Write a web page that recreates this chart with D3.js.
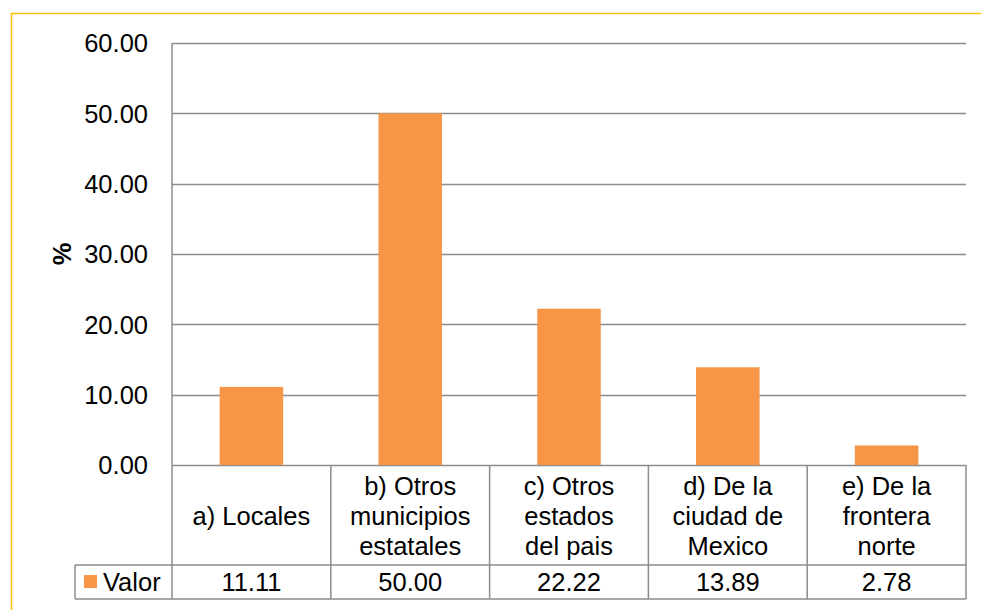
<!DOCTYPE html>
<html>
<head>
<meta charset="utf-8">
<script src="https://cdn.jsdelivr.net/npm/d3@7"></script>
<style>
  html, body { margin: 0; padding: 0; background: #fff; }
  svg { display: block; font-family: "Liberation Sans", Arial, sans-serif; }
</style>
</head>
<body>
<svg id="chart" width="981" height="610"></svg>
<script>
// Data
const categories = [
  ["a) Locales"],
  ["b) Otros", "municipios", "estatales"],
  ["c) Otros", "estados", "del pais"],
  ["d) De la", "ciudad de", "Mexico"],
  ["e) De la", "frontera", "norte"]
];
const values = [11.11, 50.00, 22.22, 13.89, 2.78];
const seriesName = "Valor";
const yTicks = [0, 10, 20, 30, 40, 50, 60];

(function draw() {
  const svg = d3.select("#chart");
  const W = 981, H = 610;
  const fs = 25.5;

  // Outer frame
  svg.append("rect")
    .attr("x", 11.5).attr("y", 13.5)
    .attr("width", W + 10).attr("height", H + 10)
    .attr("fill", "none").attr("stroke", "#FFC000").attr("stroke-width", 1.5);

  const pLeft = 172, pRight = 966, pTop = 43, pBottom = 465;
  const catRowBottom = 565, valRowBottom = 599, legendLeft = 75;
  const gridColor = "#8c8c8c";

  const x = d3.scaleBand().domain(d3.range(values.length)).range([pLeft, pRight]).paddingInner(0).paddingOuter(0);
  const y = d3.scaleLinear().domain([0, 60]).range([pBottom, pTop]);

  // Gridlines
  svg.append("g").selectAll("line").data(yTicks).join("line")
    .attr("x1", pLeft).attr("x2", pRight)
    .attr("y1", d => Math.round(y(d)) + 0.5).attr("y2", d => Math.round(y(d)) + 0.5)
    .attr("stroke", gridColor).attr("stroke-width", 1.5);

  // Y tick labels
  svg.append("g").selectAll("text").data(yTicks).join("text")
    .attr("x", 148).attr("y", d => y(d))
    .attr("dy", "0.36em")
    .attr("text-anchor", "end")
    .attr("font-size", fs)
    .attr("fill", "#000")
    .text(d => d3.format(".2f")(d));

  // Y axis title
  svg.append("text")
    .attr("transform", `translate(62,${(pTop + pBottom) / 2}) rotate(-90)`)
    .attr("dy", "0.36em")
    .attr("text-anchor", "middle")
    .attr("font-size", fs).attr("font-weight", "bold")
    .text("%");

  // Bars
  const bw = x.bandwidth() * 0.4;
  svg.append("g").selectAll("rect").data(values).join("rect")
    .attr("x", (d, i) => x(i) + (x.bandwidth() - bw) / 2)
    .attr("y", d => y(d))
    .attr("width", bw)
    .attr("height", d => y(0) - y(d))
    .attr("fill", "#F79646");

  // Data table grid
  const tbl = svg.append("g").attr("stroke", gridColor).attr("stroke-width", 1.5).attr("fill", "none");
  tbl.append("line").attr("x1", pLeft).attr("x2", pLeft).attr("y1", pTop).attr("y2", valRowBottom);
  d3.range(1, values.length + 1).forEach(i => {
    const xx = i < values.length ? x(i) : pRight;
    tbl.append("line").attr("x1", xx).attr("x2", xx).attr("y1", pBottom).attr("y2", valRowBottom);
  });
  tbl.append("line").attr("x1", legendLeft).attr("x2", pRight).attr("y1", catRowBottom).attr("y2", catRowBottom);
  tbl.append("line").attr("x1", legendLeft).attr("x2", pRight).attr("y1", valRowBottom).attr("y2", valRowBottom);
  tbl.append("line").attr("x1", legendLeft).attr("x2", legendLeft).attr("y1", catRowBottom).attr("y2", valRowBottom);

  // Category labels
  const lineH = 30;
  categories.forEach((lines, i) => {
    const cx = x(i) + x.bandwidth() / 2;
    const cy = (pBottom + catRowBottom) / 2 + 1;
    const t = svg.append("text").attr("text-anchor", "middle").attr("font-size", fs).attr("fill", "#000");
    lines.forEach((ln, j) => {
      t.append("tspan").attr("x", cx)
        .attr("y", cy + (j - (lines.length - 1) / 2) * lineH)
        .attr("dy", "0.36em")
        .text(ln);
    });
  });

  // Values row
  svg.append("g").selectAll("text").data(values).join("text")
    .attr("x", (d, i) => x(i) + x.bandwidth() / 2)
    .attr("y", (catRowBottom + valRowBottom) / 2)
    .attr("dy", "0.36em")
    .attr("text-anchor", "middle")
    .attr("font-size", fs)
    .text(d => d3.format(".2f")(d));

  // Legend key in table
  svg.append("rect").attr("x", 84).attr("y", 575).attr("width", 13).attr("height", 13).attr("fill", "#F79646");
  svg.append("text").attr("x", 103).attr("y", (catRowBottom + valRowBottom) / 2)
    .attr("dy", "0.36em").attr("font-size", fs).text(seriesName);
})();
</script>
</body>
</html>
